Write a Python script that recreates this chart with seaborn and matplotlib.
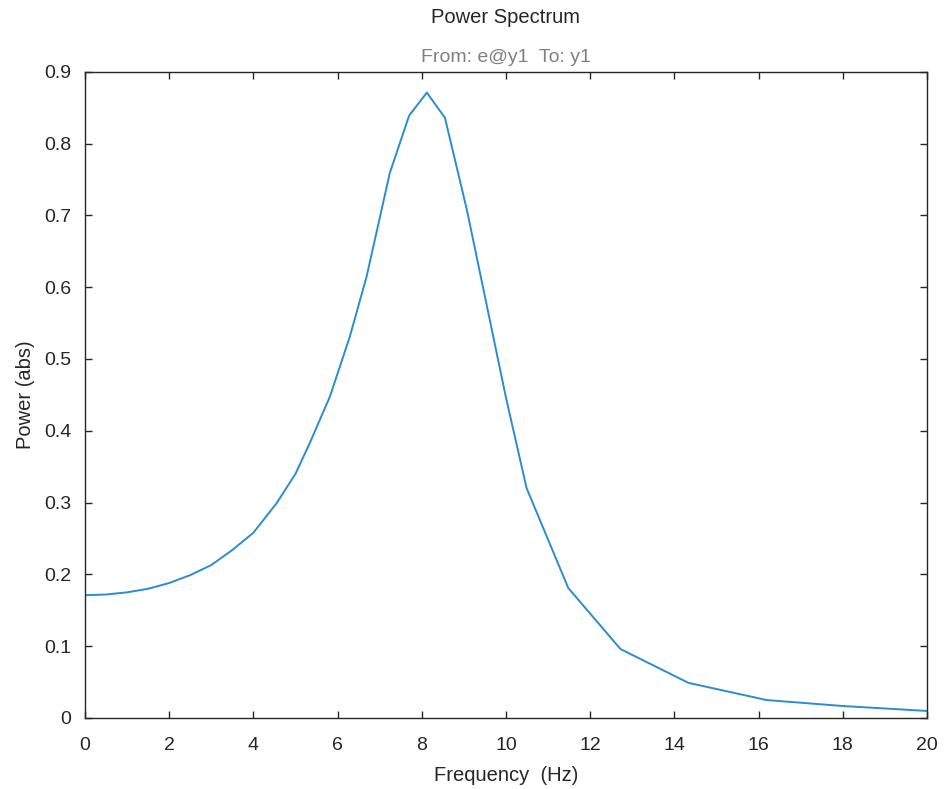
import numpy as np
import pandas as pd
import seaborn as sns
import matplotlib
matplotlib.use("Agg")
import matplotlib.pyplot as plt

# values
freq = [0, 0.5, 1, 1.5, 2, 2.5, 3, 3.5, 4, 4.55, 5.0, 5.34, 5.82, 6.29, 6.69,
        7.24, 7.70, 8.12, 8.55, 9.07, 9.5, 10.0, 10.49, 11.48, 12.72,
        14.33, 16.19, 18, 20]
power = [0.171, 0.172, 0.175, 0.180, 0.188, 0.199, 0.213, 0.234, 0.258, 0.299,
         0.340, 0.383, 0.448, 0.531, 0.615, 0.759, 0.839, 0.871, 0.836, 0.708,
         0.587, 0.446, 0.320, 0.181, 0.096, 0.049, 0.025, 0.0167, 0.0098]
xticks = [0, 2, 4, 6, 8, 10, 12, 14, 16, 18, 20]
yticks = [0, 0.1, 0.2, 0.3, 0.4, 0.5, 0.6, 0.7, 0.8, 0.9]

df = pd.DataFrame({"freq": freq, "power": power})

sns.set_style("ticks")
plt.rcParams['font.family'] = ['Liberation Sans', 'DejaVu Sans']
plt.rcParams['xtick.direction'] = 'in'
plt.rcParams['ytick.direction'] = 'in'

fig = plt.figure(figsize=(9.44, 7.89), dpi=100)
ax = fig.add_axes([0.090, 0.090, 0.892, 0.819])

sns.lineplot(data=df, x="freq", y="power", color="#2b8cd0", linewidth=1.4, ax=ax,
             sort=False)

ax.set_xlim(0, 20)
ax.set_ylim(0, 0.9)
ax.set_xticks(xticks)
ax.set_yticks(yticks)
ax.set_xticklabels([str(t) for t in xticks])
ax.set_yticklabels(["0" if t == 0 else f"{t:.1f}" for t in yticks])
ax.tick_params(axis="both", which="both", labelsize=14, colors="#262626",
               length=5, width=1.0, top=True, right=True)
ax.tick_params(axis="x", pad=14)
ax.tick_params(axis="y", pad=10)
for s in ax.spines.values():
    s.set_visible(True)
    s.set_color("#262626")
    s.set_linewidth(1.0)

ax.set_xlabel("Frequency  (Hz)", fontsize=14.5, color="#262626", labelpad=8)
ax.set_ylabel("Power (abs)", fontsize=14.5, color="#262626", labelpad=6)

fig.text(0.536, 0.978, "Power Spectrum", ha="center", va="center", fontsize=14.5,
         color="#262626")
fig.text(0.536, 0.927, "From: e@y1  To: y1", ha="center", va="center", fontsize=14,
         color="#808080")

fig.savefig("out.png", dpi=100)
